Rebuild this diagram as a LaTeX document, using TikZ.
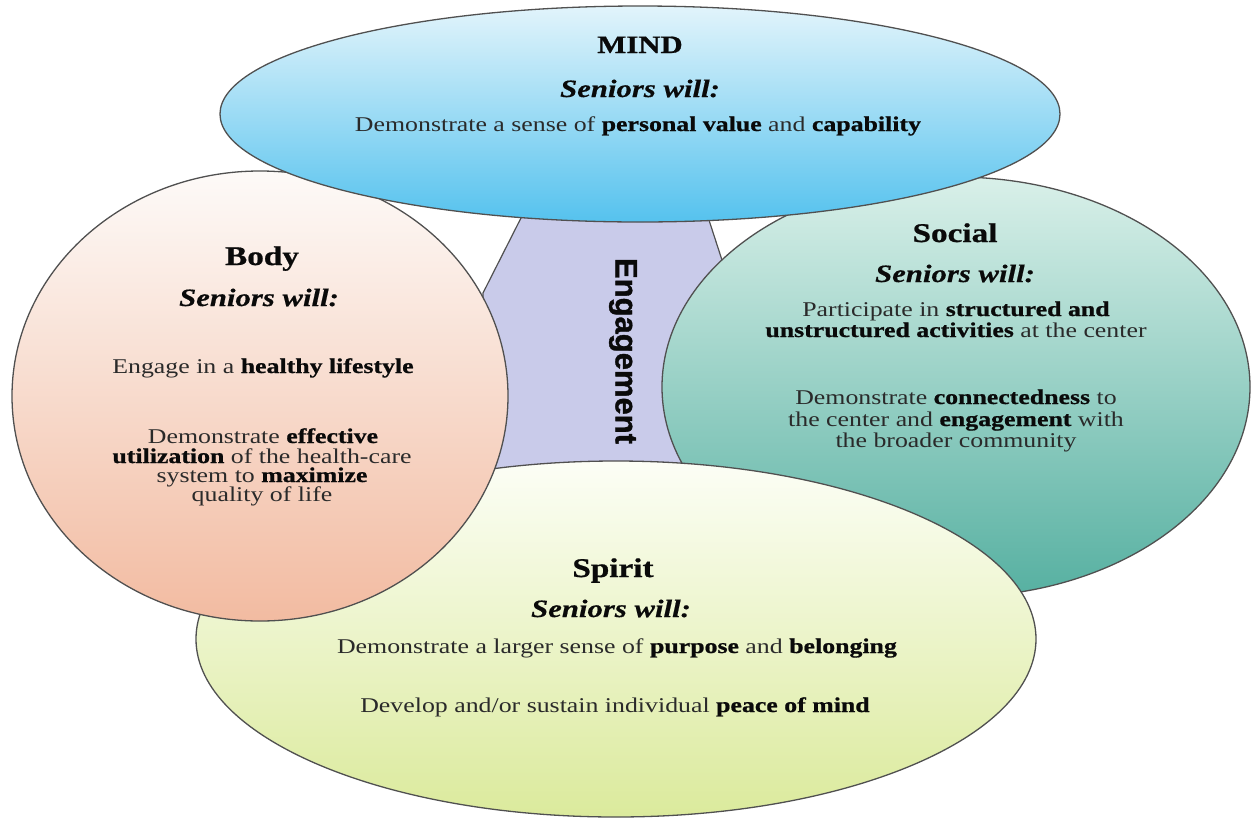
\documentclass[tikz,border=0pt]{standalone}
\usepackage{fontspec}
\setmainfont{Liberation Serif}[FakeStretch=1.23, BoldFeatures={FakeBold=0.8}, BoldItalicFeatures={FakeBold=0.5}]
\newfontfamily\engfont{Liberation Sans}[FakeBold=1.2]
\usetikzlibrary{shapes.geometric}
\definecolor{outl}{HTML}{505050}
\definecolor{ink}{HTML}{0A0A0A}
\definecolor{txtc}{HTML}{2A2A2A}
\definecolor{mindtop}{HTML}{E2F4FB}
\definecolor{mindbot}{HTML}{55C2EE}
\definecolor{bodytop}{HTML}{FDFAF8}
\definecolor{bodybot}{HTML}{F2BBA1}
\definecolor{soctop}{HTML}{D9F0E9}
\definecolor{socbot}{HTML}{56B0A1}
\definecolor{spirtop}{HTML}{FCFEF6}
\definecolor{spirbot}{HTML}{DBEA9C}
\definecolor{engfill}{HTML}{C9CBEA}
\begin{document}
\begin{tikzpicture}[x=1pt,y=-1pt,
  blob/.style={ellipse, draw=outl, line width=1.3pt, inner sep=0pt},
  ttl/.style={anchor=base, inner sep=0pt, text=ink, font=\fontsize{27}{27}\selectfont\bfseries},
  sw/.style={anchor=base, inner sep=0pt, text=ink, font=\fontsize{25}{25}\selectfont\bfseries\itshape},
  txt/.style={anchor=base, inner sep=0pt, text=txtc, font=\fontsize{21}{21}\selectfont}]
\fill[white] (0,0) rectangle (1256,820);
\useasboundingbox (0,0) rectangle (1256,820);
% engagement band
\draw[fill=engfill, draw=outl, line width=1.2pt] (523,214) -- (483,293) -- (483,500) -- (735,500) -- (735,300) -- (707,214) -- cycle;
% ellipses
\node[blob, minimum width=588pt, minimum height=420pt, top color=soctop, bottom color=socbot] (social) at (956,387) {};
\node[blob, minimum width=840pt, minimum height=356pt, top color=spirtop, bottom color=spirbot] (spirit) at (616,639) {};
\node[blob, minimum width=496pt, minimum height=450pt, top color=bodytop, bottom color=bodybot] (body) at (260,396) {};
\node[blob, minimum width=840pt, minimum height=216pt, top color=mindtop, bottom color=mindbot] (mind) at (640,114) {};
% engagement label
\node[rotate=-90, inner sep=0pt, text=ink, font=\engfont\bfseries\fontsize{31}{31}\selectfont] (eng) at (623,351) {Engagement};
% mind text
\node[ttl, font=\fontsize{25}{25}\selectfont\bfseries] (m1) at (640,53) {MIND};
\node[sw] (m2) at (640,97) {Seniors will:};
\node[txt] (m3) at (638,131) {Demonstrate a sense of \textbf{\color{ink}personal value} and \textbf{\color{ink}capability}};
% body text
\node[ttl] (b1) at (262,265) {Body};
\node[sw] (b2) at (259,306) {Seniors will:};
\node[txt] (b3) at (263,373) {Engage in a \textbf{\color{ink}healthy lifestyle}};
\node[txt] (b4) at (263,443) {Demonstrate \textbf{\color{ink}effective}};
\node[txt] (b5) at (262,463) {\textbf{\color{ink}utilization} of the health-care};
\node[txt] (b6) at (262,482) {system to \textbf{\color{ink}maximize}};
\node[txt] (b7) at (262,501) {quality of life};
% social text
\node[ttl] (s1) at (955,242) {Social};
\node[sw] (s2) at (955,282) {Seniors will:};
\node[txt] (s3) at (956,316) {Participate in \textbf{\color{ink}structured and}};
\node[txt] (s4) at (956,337) {\textbf{\color{ink}unstructured activities} at the center};
\node[txt] (s5) at (956,404) {Demonstrate \textbf{\color{ink}connectedness} to};
\node[txt] (s6) at (956,426) {the center and \textbf{\color{ink}engagement} with};
\node[txt] (s7) at (956,447) {the broader community};
% spirit text
\node[ttl] (p1) at (613,577) {Spirit};
\node[sw] (p2) at (611,617) {Seniors will:};
\node[txt] (p3) at (617,653) {Demonstrate a larger sense of \textbf{\color{ink}purpose} and \textbf{\color{ink}belonging}};
\node[txt] (p4) at (615,712) {Develop and/or sustain individual \textbf{\color{ink}peace of mind}};
\end{tikzpicture}
\end{document}
